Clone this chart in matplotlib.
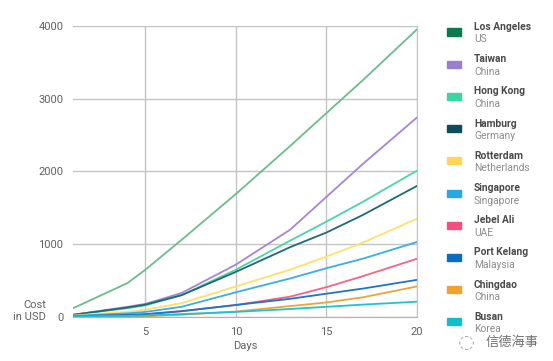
import matplotlib.pyplot as plt
from matplotlib.patches import Rectangle

plt.rcParams['font.family'] = ['Roboto', 'DejaVu Sans']

days = [1, 4, 5, 7, 10, 13, 15, 17, 20]

ports = ['Los Angeles', 'Taiwan', 'Hong Kong', 'Hamburg', 'Rotterdam',
         'Singapore', 'Jebel Ali', 'Port Kelang', 'Chingdao', 'Busan']
countries = ['US', 'China', 'China', 'Germany', 'Netherlands',
             'Singapore', 'UAE', 'Malaysia', 'China', 'Korea']

los_angeles = [120, 465, 650, 1060, 1690, 2350, 2800, 3250, 3950]
taiwan = [30, 140, 180, 330, 720, 1200, 1650, 2100, 2740]
hong_kong = [30, 120, 160, 300, 650, 1050, 1310, 1580, 2010]
hamburg = [30, 130, 170, 300, 620, 960, 1160, 1400, 1800]
rotterdam = [20, 70, 100, 190, 420, 650, 830, 1020, 1350]
singapore = [15, 50, 70, 140, 340, 530, 670, 800, 1030]
jebel_ali = [10, 25, 35, 80, 165, 280, 410, 560, 800]
port_kelang = [10, 30, 40, 80, 165, 250, 320, 390, 510]
chingdao = [5, 8, 10, 30, 75, 150, 200, 270, 420]
busan = [0, 15, 20, 40, 70, 110, 140, 170, 210]

series = [los_angeles, taiwan, hong_kong, hamburg, rotterdam,
          singapore, jebel_ali, port_kelang, chingdao, busan]

line_colors = ['#6dbb8e', '#a586d6', '#4bd6a3', '#1e6a73', '#fde16a',
               '#3aaee6', '#f56485', '#1f74c8', '#eda43a', '#1fc3cd']
swatch_colors = ['#0b7a50', '#9a7fd0', '#38d6a0', '#0d4c5a', '#fdd659',
                 '#28a9e1', '#f4507b', '#0a6dbf', '#f0a22e', '#14bec9']

fig = plt.figure(figsize=(5.53, 3.61), dpi=100)
ax = fig.add_axes([73 / 553, 1 - 317 / 361, (417 - 73) / 553, (317 - 25.7) / 361])

for vals, c in zip(series, line_colors):
    ax.plot(days, vals, color=c, lw=1.3, solid_capstyle='round')

ax.set_xlim(1, 20)
ax.set_ylim(0, 4000)
ax.set_xticks([5, 10, 15, 20])
ax.set_yticks([0, 1000, 2000, 3000, 4000])
ax.grid(True, color='#c4c4c4', lw=1)
ax.set_axisbelow(True)
for s in ['left', 'top']:
    ax.spines[s].set_visible(False)
ax.spines['right'].set_color('#c4c4c4')
ax.spines['bottom'].set_color('#b0b0b0')
ax.tick_params(length=0, labelsize=8, labelcolor='#606060', pad=7)
ax.set_xlabel('Days', fontsize=8, color='#606060', labelpad=3)

fig.text(46 / 553, 1 - 311 / 361, 'Cost\nin USD', fontsize=8, color='#606060',
         ha='right', va='center', multialignment='right', linespacing=1.25)

# legend drawn by hand
for i, (p, c, col) in enumerate(zip(ports, countries, swatch_colors)):
    yc = 32 + i * 32.2
    fig.add_artist(Rectangle((447 / 553, 1 - (yc + 3.5) / 361), 14 / 553, 7 / 361,
                             transform=fig.transFigure, color=col))
    fig.text(474 / 553, 1 - (yc - 5) / 361, p, fontsize=7.4, fontweight='bold',
             color='#4a4a4a', va='center')
    fig.text(474 / 553, 1 - (yc + 7.5) / 361, c, fontsize=7.4, color='#8c8c8c',
             va='center')

fig.text(458 / 553, 1 - 342 / 361, '◌', fontsize=14, color='#999999',
         va='center', family=['DejaVu Sans'], alpha=0.8)
fig.text(486 / 553, 1 - 342 / 361, '信德海事', fontsize=9.5, color='#555555',
         va='center', family=['Noto Sans CJK SC', 'DejaVu Sans'], alpha=0.85)

fig.savefig('out.png', dpi=100)
